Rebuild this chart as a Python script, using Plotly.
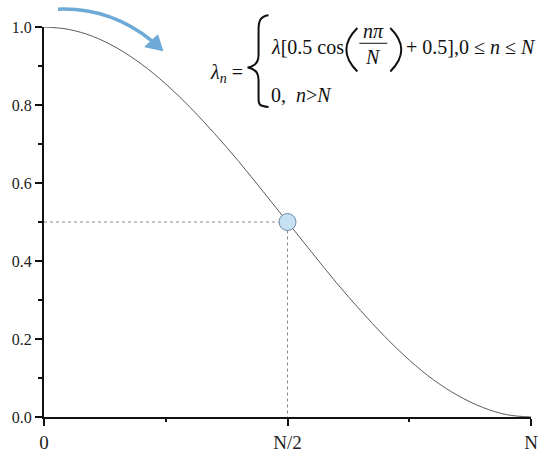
import plotly.graph_objects as go

# ---- data ----
n_frac = [0.00, 0.05, 0.10, 0.15, 0.20, 0.25, 0.30, 0.35, 0.40, 0.45, 0.50,
          0.55, 0.60, 0.65, 0.70, 0.75, 0.80, 0.85, 0.90, 0.95, 1.00]
lam_n = [1.000, 0.994, 0.976, 0.946, 0.905, 0.854, 0.794, 0.727, 0.655, 0.578, 0.500,
         0.422, 0.345, 0.273, 0.206, 0.146, 0.095, 0.055, 0.025, 0.006, 0.000]
mark_x = [0.5]
mark_y = [0.5]
guide_x = [0.0, 0.5, 0.5]
guide_y = [0.5, 0.5, 0.0]
x_tickvals = [0, 0.5, 1]
x_ticktext = ["0", "N/2", "N"]
y_tickvals = [0.0, 0.2, 0.4, 0.6, 0.8, 1.0]
y_ticktext = ["0.0", "0.2", "0.4", "0.6", "0.8", "1.0"]

# ---- layout helpers (page pixel -> paper) ----
W, H = 550, 465
PL, PR, PT, PB = 43, 531, 27, 422          # plot area in page pixels
L, R, T, B = PL, W - PR, PT, H - PB
def px(x):
    return (x - PL) / (PR - PL)
def py(y):
    return (PB - y) / (PB - PT)
def P(x, y):
    return f"{px(x):.5f},{py(y):.5f}"

SERIF = "Times New Roman, Liberation Serif, serif"

fig = go.Figure()
fig.add_trace(go.Scatter(x=guide_x, y=guide_y, mode="lines",
                         line=dict(color="#8a8a8a", width=1, dash="3px,3px"),
                         hoverinfo="skip", showlegend=False))
fig.add_trace(go.Scatter(x=n_frac, y=lam_n, mode="lines",
                         line=dict(color="#5a5a5a", width=1, shape="spline"),
                         showlegend=False))
fig.add_trace(go.Scatter(x=mark_x, y=mark_y, mode="markers",
                         marker=dict(size=17, color="#c6e0f4",
                                     line=dict(color="#6f8ba6", width=1)),
                         showlegend=False))

shapes = []
# curved blue arrow
shapes.append(dict(type="path", xref="paper", yref="paper",
                   path=f"M{P(57,9)} Q{P(109,7)} {P(151,41)}",
                   line=dict(color="#6eaad7", width=3.5)))
shapes.append(dict(type="path", xref="paper", yref="paper",
                   path=f"M{P(162,51)} L{P(144,47)} L{P(157,35)} Z",
                   line=dict(color="#6eaad7", width=1), fillcolor="#6eaad7"))
# brace
shapes.append(dict(type="path", xref="paper", yref="paper",
                   path=(f"M{P(268,15)} C{P(259,16)} {P(258,22)} {P(258,30)} "
                         f"L{P(258,55)} C{P(258,63)} {P(254,67)} {P(247,68)} "
                         f"C{P(254,69)} {P(258,73)} {P(258,81)} "
                         f"L{P(258,100)} C{P(258,106)} {P(259,107)} {P(268,108)}"),
                   line=dict(color="#111111", width=2)))
# big parentheses
shapes.append(dict(type="path", xref="paper", yref="paper",
                   path=f"M{P(357,28)} Q{P(335,50)} {P(357,72)}",
                   line=dict(color="#111111", width=2)))
shapes.append(dict(type="path", xref="paper", yref="paper",
                   path=f"M{P(390,28)} Q{P(412,50)} {P(390,72)}",
                   line=dict(color="#111111", width=2)))
# fraction bar
shapes.append(dict(type="line", xref="paper", yref="paper",
                   x0=px(359), x1=px(387), y0=py(43.5), y1=py(43.5),
                   line=dict(color="#111111", width=1)))

def txt(x, y, s, anchor="left", size=20):
    return dict(x=px(x), y=py(y), xref="paper", yref="paper", text=s,
                showarrow=False, xanchor=anchor, yanchor="middle",
                font=dict(family=SERIF, size=size, color="#111111"))

annotations = [
    txt(207, 74, "<i>λ</i><sub><i>n</i></sub> ="),
    txt(268, 47, "<i>λ</i>[0.5 cos"),
    txt(373, 31, "<i>nπ</i>", anchor="center"),
    txt(373, 57, "<i>N</i>", anchor="center"),
    txt(404, 47, "+ 0.5],0 ≤ <i>n</i> ≤ <i>N</i>"),
    txt(268, 96, "0,  <i>n</i>&gt;<i>N</i>"),
]

fig.update_layout(
    width=W, height=H,
    margin=dict(l=L, r=R, t=T, b=B),
    plot_bgcolor="white", paper_bgcolor="white",
    shapes=shapes, annotations=annotations,
    hovermode=False,
    xaxis=dict(range=[0, 1], tickvals=x_tickvals, ticktext=x_ticktext,
               showgrid=False, zeroline=False, showline=True, linecolor="#111",
               linewidth=2, ticks="outside", ticklen=7, tickwidth=2, tickcolor="#111",
               tickfont=dict(family=SERIF, size=19, color="#222"),
               minor=dict(tickvals=[0.25, 0.75], ticks="outside", ticklen=3,
                          tickwidth=2, tickcolor="#111")),
    yaxis=dict(range=[0, 1], tickvals=y_tickvals, ticktext=y_ticktext,
               showgrid=False, zeroline=False, showline=True, linecolor="#111",
               linewidth=2, ticks="outside", ticklen=7, tickwidth=2, tickcolor="#111",
               tickfont=dict(family=SERIF, size=16, color="#222"),
               minor=dict(tickvals=[0.1, 0.3, 0.5, 0.7, 0.9], ticks="outside",
                          ticklen=4, tickwidth=2, tickcolor="#111")),
)

fig.write_html(
    "out.html",
    config={"displayModeBar": False},
    post_script="document.body.style.margin='0';document.body.style.overflow='hidden';",
)
